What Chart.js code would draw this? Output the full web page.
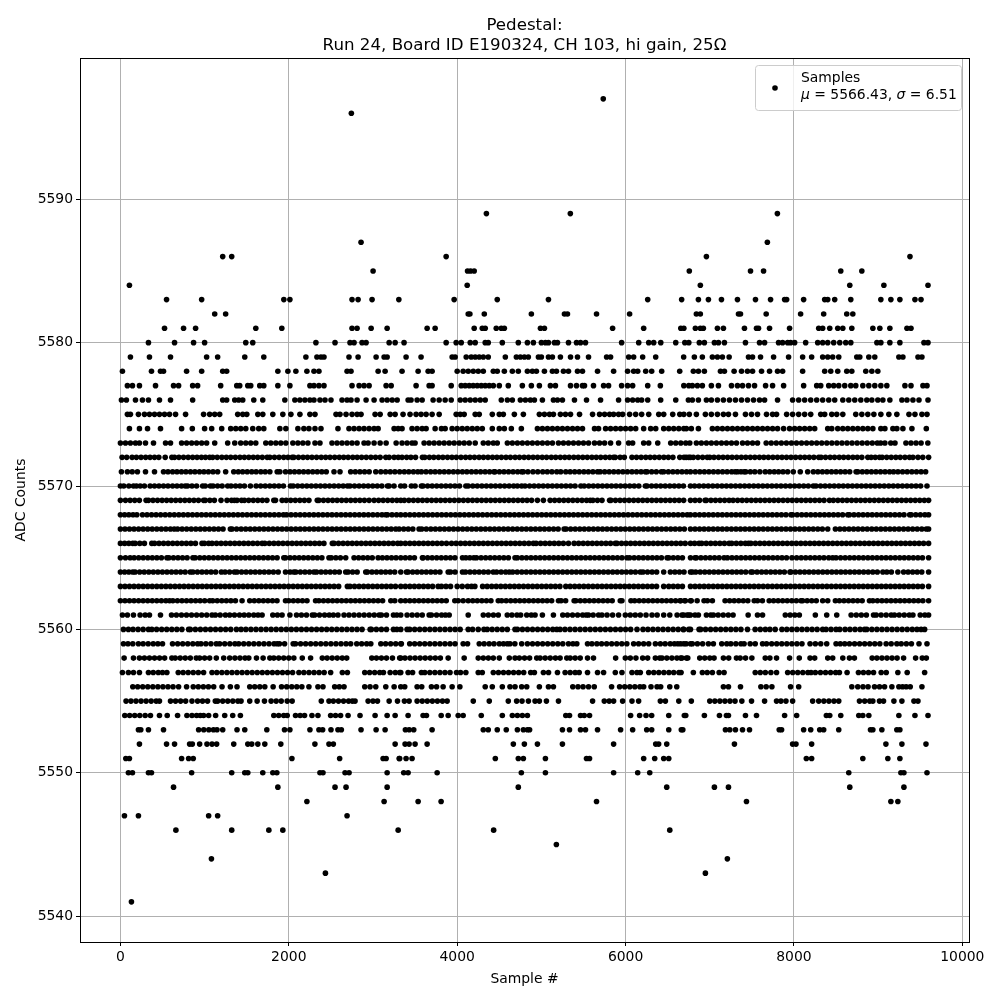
<!DOCTYPE html>
<html>
<head>
<meta charset="utf-8">
<title>Pedestal</title>
<script src="https://cdn.jsdelivr.net/npm/chart.js@4"></script>
<style>
  body { margin: 0; background: #fff; }
  canvas { display: block; }
</style>
</head>
<body>
<canvas id="pedestalChart" width="1000" height="1000"></canvas>
<script>
// Sample numbers, one array per ADC level
const s5597 = [5735];
const s5596 = [2743];
const s5589 = [4347,5344,7803];
const s5587 = [2858,7684];
const s5586 = [1215,1322,3869,6960,9378];
const s5585 = [3001,4123,4159,4202,6757,7484,7639,8556,8806];
const s5584 = [107,4119,6888,8663,9068,9592];
const s5583 = [548,965,1941,2013,2751,2823,2989,3307,3964,4476,5084,6263,6666,6865,6984,7139,7329,7543,7722,7889,7913,8115,8365,8401,8484,8675,9032,9151,9258,9437,9509];
const s5582 = [1120,1250,4131,4151,4322,4881,5274,5310,5655,6048,6841,6888,7341,7365,7670,8079,8353,8627,8699];
const s5581 = [524,750,893,1608,1917,2751,2811,2978,3168,3643,3738,4202,4298,4333,4464,4524,4560,4989,5036,5846,6215,6656,6692,6829,6888,6924,7091,7162,7412,7555,7579,7710,7948,8294,8341,8425,8520,8580,8687,8937,9020,9139,9342,9390];
const s5580 = [333,643,869,1000,1489,1572,2322,2549,2727,2775,2870,2918,3192,3263,3369,3869,3988,4048,4155,4214,4333,4369,4536,4726,4834,4905,5000,5048,5084,5155,5191,5322,5417,5465,5524,5953,6156,6275,6334,6418,6596,6704,6751,6876,6936,7055,7103,7174,7424,7591,7651,7817,7865,7925,7960,8008,8139,8282,8341,8401,8472,8544,8615,8675,8985,9032,9139,9258,9544,9592];
const s5579 = [119,345,595,1024,1155,1477,1703,2203,2334,2382,2418,2715,2823,3037,3132,3168,3393,3571,3940,3976,4107,4167,4214,4262,4310,4369,4572,4703,4750,4798,4845,4965,5000,5084,5131,5226,5346,5429,5560,5775,5822,6037,6096,6203,6358,6690,6817,6912,7031,7091,7150,7230,7460,7508,7603,7758,7936,8103,8210,8341,8401,8460,8532,8746,8782,8889,8960,9246,9294,9473,9520];
const s5578 = [24,369,476,512,786,965,1215,1262,1870,1989,2084,2215,2299,2358,2692,2739,3061,3144,3345,3536,3655,3702,4000,4071,4131,4191,4250,4310,4429,4476,4560,4655,4726,4834,4893,4941,5036,5131,5179,5262,5322,5429,5488,5667,5858,6024,6096,6144,6239,6310,6429,6643,6805,6865,6936,7127,7174,7289,7377,7448,7508,7615,7710,7805,7865,8103,8365,8437,8520,8627,8687,8853,8925,8996];
const s5577 = [83,143,226,417,631,691,858,917,1191,1382,1417,1513,1548,1655,1703,1870,2013,2251,2299,2358,2418,2751,2835,2894,2954,3156,3216,3512,3667,3702,3929,4048,4095,4143,4190,4238,4286,4333,4381,4429,4500,4607,4774,4881,4976,5107,5167,5346,5417,5488,5512,5619,5739,5798,5953,6024,6084,6263,6413,6692,6751,6793,6853,6912,7019,7103,7258,7329,7389,7460,7532,7663,7746,7877,8115,8270,8318,8413,8472,8532,8603,8675,8734,8818,8889,8960,9032,9103,9318,9390,9532,9580];
const s5576 = [12,71,179,262,333,464,595,858,1215,1262,1358,1405,1453,1584,1691,1953,2072,2131,2191,2251,2299,2370,2430,2501,2632,2692,2739,2811,2918,3013,3108,3168,3228,3287,3417,3452,3524,3584,3714,3786,3857,3929,4036,4095,4155,4214,4274,4333,4524,4596,4655,4750,4810,4869,4917,5012,5143,5191,5250,5393,5536,5703,5917,6024,6084,6144,6191,6263,6417,6596,6746,6793,6865,6960,7019,7091,7162,7234,7305,7377,7448,7520,7591,7651,7805,7984,8056,8127,8199,8270,8341,8413,8484,8580,8651,8722,8794,8865,8925,8996,9056,9139,9282,9342,9413,9485,9592];
const s5575 = [83,119,214,286,345,405,464,524,583,655,774,988,1060,1120,1179,1393,1453,1501,1632,1691,1810,1929,2025,2132,2251,2311,2561,2608,2680,2751,2811,2858,3025,3085,3204,3263,3357,3440,3512,3571,3631,3702,3786,3988,4036,4083,4214,4262,4417,4500,4548,4679,4786,4976,5036,5096,5143,5226,5286,5346,5453,5608,5691,5751,5810,5858,5917,5965,6048,6120,6191,6275,6394,6453,6560,6644,6692,6757,6841,6948,7019,7091,7162,7222,7305,7424,7496,7567,7674,7746,7793,7913,7984,8056,8127,8199,8318,8365,8449,8508,8580,8734,8806,8877,8949,9032,9127,9222,9366,9437,9520,9580];
const s5574 = [107,226,322,476,727,854,1000,1084,1203,1310,1370,1429,1489,1572,1643,1703,1894,1965,2108,2179,2239,2311,2382,2584,2715,2775,2835,2894,2954,3013,3061,3251,3299,3345,3464,3524,3584,3631,3738,3813,3857,3940,4000,4060,4119,4179,4238,4298,4417,4500,4560,4643,4762,4953,5012,5072,5131,5191,5250,5310,5370,5429,5488,5631,5679,5763,5822,5882,5941,6000,6060,6120,6215,6298,6358,6453,6513,6572,6632,6692,6722,6781,6865,7031,7091,7150,7210,7269,7329,7389,7448,7508,7567,7627,7686,7746,7805,7877,7948,8008,8067,8127,8187,8246,8401,8449,8520,8580,8639,8699,8758,8818,8877,8937,9032,9080,9175,9222,9294,9401,9572];
const s5573 = [0,60,119,179,226,298,393,536,595,727,786,846,905,965,1024,1120,1274,1358,1429,1489,1548,1608,1727,1786,1846,1905,1965,2048,2108,2167,2227,2311,2370,2513,2573,2632,2692,2751,2811,2894,2942,3013,3085,3156,3275,3345,3405,3464,3500,3607,3667,3726,3786,3845,3905,3964,4024,4083,4143,4214,4310,4369,4429,4476,4596,4655,4715,4774,4834,4893,4953,5012,5072,5131,5203,5262,5322,5381,5441,5500,5560,5631,5691,5751,5822,5917,6036,6084,6215,6275,6382,6536,6596,6656,6715,6763,6841,6900,6960,7019,7079,7139,7198,7258,7317,7389,7448,7508,7567,7670,7730,7790,7850,7910,7970,8030,8090,8150,8210,8270,8330,8390,8450,8510,8570,8630,8690,8750,8810,8870,8930,8990,9030,9080,9150,9200,9330,9390,9450,9510,9590];
const s5572 = [20,75,139,190,245,300,352,405,456,532,611,643,695,750,805,858,910,962,1010,1060,1096,1150,1205,1258,1310,1365,1420,1472,1525,1578,1630,1685,1743,1775,1830,1885,1940,1990,2040,2060,2115,2170,2222,2275,2330,2385,2438,2490,2545,2600,2652,2705,2760,2812,2865,2920,2975,3030,3085,3152,3192,3251,3300,3345,3400,3450,3505,3587,3615,3670,3722,3778,3830,3885,3938,3990,4045,4100,4152,4205,4260,4312,4366,4420,4472,4525,4580,4632,4688,4740,4795,4848,4902,4955,5010,5062,5118,5170,5225,5278,5330,5385,5438,5492,5545,5600,5652,5705,5760,5812,5858,5878,5935,5985,6076,6130,6185,6240,6292,6345,6400,6455,6508,6562,6644,6720,6771,6694,6750,6805,6860,6915,6970,7000,7050,7105,7158,7212,7265,7320,7375,7428,7482,7535,7590,7642,7696,7750,7804,7858,7912,7965,8020,8075,8128,8182,8236,8294,8322,8375,8430,8482,8538,8590,8645,8700,8752,8806,8877,8917,8965,9016,9048,9102,9155,9210,9262,9318,9372,9413,9473,9530,9599];
const s5571 = [12,83,140,202,298,405,512,565,620,672,725,778,832,885,940,992,1045,1100,1155,1250,1346,1400,1452,1506,1560,1612,1668,1720,1775,1862,1894,1961,2015,2068,2122,2176,2230,2284,2338,2392,2445,2537,2608,2735,2790,2845,2900,2955,3033,3093,3150,3205,3260,3317,3372,3425,3480,3532,3575,3630,3685,3738,3792,3846,3900,3955,4008,4062,4115,4170,4224,4278,4332,4385,4437,4449,4502,4556,4610,4664,4718,4766,4786,4840,4900,4957,5016,5070,5125,5183,5230,5290,5342,5396,5450,5505,5558,5612,5667,5699,5752,5806,5860,5914,5968,6022,6076,6130,6184,6235,6255,6310,6365,6425,6453,6508,6562,6616,6670,6724,6771,6828,6882,6936,6990,7044,7098,7152,7206,7260,7301,7329,7370,7408,7428,7482,7535,7595,7659,7712,7766,7817,7870,7925,7992,8075,8163,8230,8284,8338,8392,8446,8500,8554,8608,8662,8738,8758,8812,8866,8920,8974,9028,9082,9136,9183,9235,9290,9345,9400,9455,9510,9564];
const s5570 = [0,40,100,155,190,235,285,353,405,458,512,565,620,672,725,770,798,850,905,977,1008,1068,1100,1154,1208,1274,1314,1368,1420,1473,1544,1612,1666,1720,1774,1828,1882,1936,2020,2052,2106,2160,2214,2268,2322,2376,2430,2484,2538,2592,2646,2696,2727,2781,2835,2889,2943,2997,3051,3105,3172,3192,3250,3330,3375,3456,3500,3575,3595,3649,3703,3757,3811,3865,3919,3973,4027,4103,4131,4185,4239,4293,4347,4401,4455,4509,4563,4617,4671,4715,4766,4806,4860,4914,4968,5022,5076,5130,5184,5238,5292,5346,5400,5469,5509,5563,5617,5671,5725,5779,5833,5887,5941,5995,6049,6103,6157,6235,6255,6309,6363,6417,6471,6525,6579,6633,6687,6771,6820,6874,6928,6982,7036,7090,7144,7198,7252,7306,7360,7414,7468,7522,7576,7630,7684,7738,7792,7846,7900,7954,8008,8062,8116,8170,8230,8262,8316,8370,8424,8478,8532,8586,8640,8694,8748,8802,8856,8910,8964,9018,9072,9126,9180,9234,9288,9342,9396,9450,9504,9580];
const s5569 = [0,60,115,170,225,305,333,387,441,495,549,603,657,711,765,819,873,927,988,1008,1062,1116,1195,1266,1320,1354,1385,1439,1473,1524,1578,1632,1686,1740,1822,1842,1921,1969,2023,2077,2131,2185,2239,2338,2358,2412,2466,2520,2574,2628,2682,2736,2790,2844,2898,2954,3013,3067,3121,3175,3229,3283,3330,3372,3426,3480,3534,3588,3642,3696,3750,3804,3858,3912,3966,4020,4074,4128,4182,4236,4290,4344,4398,4452,4506,4560,4614,4668,4722,4776,4830,4884,4953,5024,5104,5158,5212,5266,5320,5374,5428,5482,5536,5580,5612,5666,5720,5810,5826,5880,5934,5988,6042,6096,6150,6204,6258,6312,6366,6420,6474,6528,6582,6636,6690,6771,6825,6879,6944,6960,7014,7068,7122,7176,7230,7277,7331,7385,7439,7493,7547,7601,7655,7709,7763,7817,7871,7925,7979,8033,8087,8141,8195,8249,8303,8357,8421,8468,8522,8576,8630,8684,8738,8792,8846,8900,8954,9008,9062,9116,9170,9224,9278,9332,9386,9440,9494,9548,9599];
const s5568 = [0,50,100,150,195,262,316,370,424,478,532,586,640,694,748,802,856,910,964,1018,1072,1126,1180,1234,1288,1342,1396,1450,1504,1558,1612,1666,1720,1774,1828,1882,1936,1973,2027,2081,2135,2189,2243,2297,2351,2405,2459,2513,2567,2621,2675,2729,2783,2837,2891,2945,2999,3053,3107,3152,3172,3226,3280,3330,3384,3438,3492,3546,3600,3654,3708,3762,3816,3870,3924,3978,4032,4086,4140,4194,4248,4302,4356,4410,4464,4518,4572,4626,4680,4734,4788,4842,4896,4950,5004,5058,5112,5166,5220,5274,5328,5382,5436,5490,5544,5598,5652,5706,5760,5814,5868,5922,5976,6030,6084,6138,6192,6246,6300,6354,6408,6462,6516,6570,6624,6678,6732,6771,6825,6879,6933,6987,7041,7095,7149,7203,7257,7311,7365,7419,7473,7527,7581,7635,7689,7743,7797,7851,7905,7964,7984,8038,8092,8146,8200,8254,8308,8362,8416,8470,8524,8578,8639,8659,8713,8767,8821,8875,8929,8983,9037,9091,9145,9199,9253,9307,9374,9393,9447,9501,9555,9599];
const s5567 = [0,54,108,162,216,270,324,378,432,486,540,594,639,679,733,787,841,895,949,1003,1057,1111,1165,1219,1306,1326,1380,1434,1488,1542,1596,1650,1704,1758,1812,1866,1920,1974,2028,2082,2136,2190,2244,2298,2352,2406,2460,2514,2568,2622,2676,2730,2784,2838,2892,2946,3000,3054,3108,3162,3216,3270,3311,3365,3419,3473,3547,3579,3633,3687,3741,3795,3849,3903,3957,4011,4065,4119,4173,4227,4281,4335,4389,4443,4497,4551,4605,4659,4713,4767,4821,4875,4929,4983,5037,5091,5145,5199,5270,5294,5348,5402,5456,5510,5564,5618,5672,5726,5780,5834,5888,5942,5996,6050,6104,6158,6212,6266,6320,6374,6428,6482,6536,6590,6644,6698,6771,6825,6879,6933,6987,7041,7095,7149,7203,7257,7311,7365,7419,7473,7527,7581,7635,7689,7743,7797,7851,7905,7959,8013,8067,8121,8175,8229,8283,8337,8401,8492,8546,8600,8654,8708,8762,8816,8870,8924,8978,9032,9086,9140,9194,9248,9302,9356,9410,9464,9518,9572,9599];
const s5566 = [0,50,100,147,175,230,285,373,405,459,513,567,621,675,729,783,837,891,969,997,1048,1088,1142,1196,1250,1304,1358,1412,1466,1520,1574,1628,1683,1715,1769,1823,1877,1931,1985,2039,2093,2147,2201,2255,2309,2363,2417,2517,2537,2591,2645,2699,2753,2807,2861,2915,2969,3023,3077,3131,3185,3239,3293,3330,3384,3438,3492,3546,3600,3654,3708,3762,3816,3873,3933,3987,4041,4095,4149,4203,4257,4311,4365,4419,4473,4527,4581,4635,4689,4743,4797,4851,4905,4937,4991,5045,5099,5153,5207,5261,5322,5389,5443,5497,5551,5605,5659,5713,5767,5821,5878,5898,5952,6006,6060,6114,6168,6222,6276,6330,6384,6438,6492,6546,6600,6654,6708,6771,6820,6873,6904,6958,7012,7066,7120,7174,7230,7261,7315,7369,7423,7460,7488,7542,7596,7650,7704,7758,7812,7866,7920,7974,8028,8082,8136,8190,8244,8298,8352,8406,8460,8514,8568,8622,8676,8730,8784,8838,8892,8946,9000,9054,9108,9162,9216,9270,9324,9378,9432,9486,9540,9599];
const s5565 = [0,60,115,163,217,271,325,379,433,487,552,576,630,684,738,792,861,889,943,997,1051,1105,1159,1213,1267,1321,1375,1429,1483,1537,1591,1645,1699,1753,1807,1861,1941,1961,2015,2069,2123,2177,2231,2285,2339,2393,2477,2505,2559,2613,2676,2775,2829,2883,2937,2991,3061,3112,3166,3220,3274,3330,3384,3438,3492,3587,3595,3649,3703,3757,3811,3865,3919,3973,4063,4103,4150,4198,4230,4284,4338,4392,4446,4500,4554,4608,4687,4715,4769,4823,4877,4931,4985,5039,5093,5147,5201,5255,5309,5363,5417,5471,5525,5579,5633,5687,5741,5795,5849,5903,5957,6016,6048,6102,6156,6210,6264,6318,6372,6426,6493,6513,6567,6621,6675,6771,6825,6841,6895,6949,7003,7057,7111,7170,7210,7264,7318,7372,7426,7480,7534,7588,7642,7696,7750,7804,7858,7912,7976,8032,8086,8140,8194,8248,8302,8356,8413,8460,8500,8554,8608,8662,8716,8770,8824,8878,8932,8986,9040,9094,9148,9202,9256,9310,9364,9418,9472,9526,9599];
const s5564 = [0,50,100,147,175,229,283,337,391,445,499,553,607,661,715,769,830,861,915,969,1023,1077,1131,1199,1243,1297,1354,1385,1439,1493,1547,1601,1655,1709,1763,1817,1874,1961,2015,2060,2084,2138,2192,2246,2299,2330,2384,2438,2492,2546,2600,2676,2704,2758,2812,2914,2934,2988,3042,3096,3150,3204,3258,3330,3397,3417,3471,3525,3579,3633,3687,3741,3795,3893,3921,3975,4063,4099,4153,4207,4261,4315,4369,4429,4468,4522,4576,4619,4659,4713,4767,4821,4875,4929,4983,5037,5091,5145,5199,5253,5307,5361,5415,5469,5523,5577,5631,5685,5739,5793,5847,5901,5955,6009,6063,6117,6175,6207,6261,6315,6369,6453,6532,6586,6640,6694,6771,6793,6833,6887,6941,6995,7049,7103,7157,7211,7265,7319,7373,7427,7488,7508,7562,7616,7670,7724,7778,7832,7886,7952,7964,8018,8072,8126,8180,8234,8288,8342,8396,8450,8504,8558,8612,8666,8720,8774,8828,8882,8936,8990,9056,9103,9157,9234,9302,9356,9410,9464,9518,9599];
const s5563 = [0,54,108,162,216,270,324,378,432,486,540,594,648,702,756,810,864,918,972,1026,1080,1134,1188,1242,1296,1350,1404,1458,1512,1566,1620,1674,1728,1782,1836,1890,1944,1998,2052,2106,2160,2214,2268,2322,2376,2430,2484,2538,2592,2696,2727,2781,2835,2889,2943,2997,3051,3105,3159,3213,3267,3330,3384,3438,3492,3546,3600,3654,3708,3774,3813,3867,3921,4000,4060,4123,4170,4210,4302,4356,4410,4464,4518,4572,4626,4680,4734,4788,4842,4896,4950,5004,5058,5112,5166,5220,5290,5342,5396,5450,5504,5558,5612,5666,5720,5774,5828,5882,5936,5990,6044,6098,6152,6206,6260,6314,6368,6453,6513,6567,6621,6675,6771,6825,6879,6933,6987,7041,7095,7149,7203,7257,7311,7365,7419,7473,7527,7581,7635,7689,7743,7797,7851,7905,7959,8013,8067,8121,8175,8229,8283,8337,8391,8445,8499,8553,8607,8661,8715,8769,8823,8877,8931,8985,9039,9093,9147,9201,9255,9309,9363,9417,9471,9525,9599];
const s5562 = [0,54,108,162,216,270,324,378,432,486,540,584,623,677,731,785,839,893,947,1001,1060,1096,1150,1204,1258,1312,1366,1445,1536,1590,1644,1698,1752,1806,1860,1961,2000,2054,2108,2162,2216,2318,2358,2412,2466,2520,2574,2628,2682,2736,2790,2844,2898,2952,3006,3060,3114,3212,3259,3330,3384,3438,3492,3546,3600,3654,3708,3762,3816,3870,3972,4012,4071,4131,4185,4239,4293,4347,4401,4488,4528,4582,4636,4690,4744,4798,4852,4906,4960,5014,5068,5122,5203,5234,5288,5389,5409,5463,5517,5571,5625,5679,5733,5787,5841,5937,5957,6064,6108,6162,6216,6270,6324,6378,6432,6486,6540,6594,6648,6702,6771,6654,6710,6780,6850,6932,6972,7031,7182,7236,7290,7344,7398,7452,7528,7567,7625,7706,7758,7812,7866,7920,7974,8028,8083,8103,8157,8211,8265,8341,8401,8492,8540,8594,8648,8702,8756,8810,8897,8937,8991,9045,9099,9153,9207,9261,9315,9369,9423,9477,9531,9599];
const s5561 = [24,83,155,234,294,345,476,607,665,725,785,845,905,965,1025,1088,1128,1185,1247,1298,1355,1415,1470,1525,1584,1635,1683,1810,1865,1920,2013,2092,2150,2210,2279,2307,2365,2425,2480,2529,2584,2656,2715,2775,2835,2895,2955,3015,3073,3100,3160,3243,3283,3330,3405,3465,3525,3585,3667,3694,3755,3815,3860,3905,4131,4310,4370,4430,4488,4595,4650,4710,4754,4826,4880,4925,5012,5143,5254,5310,5370,5430,5490,5532,5560,5615,5679,5719,5780,5846,5917,5997,6056,6115,6175,6243,6314,6375,6453,6525,6612,6670,6730,6771,6690,6750,6825,6865,6960,7012,7043,7100,7160,7220,7277,7456,7567,7627,7897,7955,8010,8064,8254,8389,8508,8679,8740,8800,8860,8945,8977,9035,9095,9155,9194,9250,9310,9370,9413,9500,9555,9599];
const s5560 = [36,95,150,210,270,333,373,430,490,550,610,670,730,810,830,890,950,1010,1070,1130,1190,1250,1310,1378,1433,1490,1550,1610,1670,1730,1790,1850,1910,1970,2030,2090,2150,2210,2270,2330,2390,2450,2510,2570,2630,2690,2750,2810,2870,2966,2981,3040,3100,3160,3243,3283,3330,3405,3436,3495,3555,3615,3675,3735,3795,3855,3915,3975,4035,4131,4183,4250,4318,4357,4415,4475,4535,4595,4687,4715,4775,4835,4895,4955,5015,5075,5135,5183,5222,5280,5340,5400,5460,5520,5580,5640,5700,5760,5820,5880,5940,6000,6060,6136,6207,6265,6325,6385,6445,6505,6565,6625,6685,6771,6690,6750,6873,6892,6950,7010,7070,7130,7190,7250,7310,7370,7448,7539,7600,7660,7714,7777,7857,7915,7975,8035,8095,8155,8215,8275,8341,8381,8440,8500,8544,8607,8665,8725,8785,8838,8865,8925,8985,9045,9105,9165,9225,9285,9345,9405,9461,9510,9552];
const s5559 = [36,90,147,214,270,330,390,445,500,619,680,740,800,860,917,957,1015,1075,1139,1179,1239,1300,1360,1405,1465,1525,1585,1645,1705,1765,1825,1862,1889,1950,2052,2080,2140,2200,2260,2320,2380,2440,2500,2560,2620,2680,2735,2807,2865,2925,2974,3093,3150,3210,3270,3330,3337,3436,3495,3555,3615,3675,3735,3795,3855,3915,3975,4071,4123,4262,4320,4380,4437,4500,4550,4595,4627,4685,4766,4834,4895,4955,5015,5075,5135,5195,5254,5322,5375,5421,5548,5600,5659,5715,5775,5835,5895,5955,6015,6096,6155,6215,6275,6354,6413,6470,6530,6580,6620,6692,6771,6654,6720,6793,6853,6915,6984,7043,7142,7202,7250,7310,7370,7408,7480,7540,7627,7674,7735,7795,7855,7915,7975,8035,8095,8191,8254,8318,8389,8500,8550,8603,8659,8720,8780,8840,8900,8960,9020,9095,9155,9222,9274,9335,9395,9485,9580];
const s5558 = [44,155,226,285,345,405,465,525,611,651,710,770,830,901,941,1000,1060,1139,1227,1298,1360,1420,1480,1525,1616,1695,1775,1822,1880,1940,2000,2060,2160,2259,2398,2455,2515,2575,2635,2688,2986,3041,3100,3160,3231,3330,3317,3380,3440,3500,3560,3620,3680,3740,3800,3893,4083,4250,4310,4370,4429,4500,4619,4687,4738,4800,4860,4945,4985,5045,5105,5167,5222,5302,5342,5401,5461,5548,5619,5882,5997,6056,6123,6203,6262,6354,6405,6433,6490,6550,6610,6670,6739,6654,6722,6881,6940,7000,7051,7162,7225,7317,7361,7425,7500,7659,7714,7793,7948,8063,8191,8246,8401,8460,8580,8659,8718,8929,8985,9045,9105,9165,9225,9302,9445,9524,9572];
const s5557 = [24,95,155,226,333,390,450,500,552,687,745,805,865,925,988,1088,1145,1205,1265,1325,1385,1445,1505,1565,1625,1685,1745,1805,1865,1925,1985,2045,2120,2179,2240,2300,2360,2420,2497,2636,2696,2902,2960,3020,3080,3124,3204,3265,3330,3317,3417,3470,3575,3615,3675,3735,3795,3855,3915,3992,4040,4103,4250,4298,4429,4490,4550,4610,4670,4730,4790,4873,4917,5024,5085,5191,5282,5342,5401,5449,5548,5667,5739,5878,5957,6076,6135,6175,6275,6335,6395,6455,6515,6572,6659,6634,6805,6912,6970,7031,7111,7170,7540,7600,7660,7726,7793,7925,7985,8045,8105,8165,8203,8254,8315,8375,8435,8495,8540,8631,8766,8825,8885,8945,9036,9096,9234,9345,9552];
const s5556 = [147,205,265,325,385,445,505,565,625,691,786,865,925,985,1045,1108,1207,1306,1385,1536,1595,1655,1715,1814,1914,1975,2035,2095,2155,2239,2346,2406,2545,2600,2656,2902,2965,3033,3152,3251,3330,3377,3524,3579,3694,3755,3833,3940,4032,4333,4417,4536,4627,4687,4766,4826,4976,5084,5143,5373,5435,5495,5560,5628,5834,5929,5990,6050,6110,6170,6215,6302,6374,6417,6525,6608,7162,7222,7365,7607,7670,7738,7960,8056,8687,8758,8820,8880,8957,9016,9076,9163,9246,9290,9333,9381,9520];
const s5555 = [67,125,185,245,305,365,425,464,595,655,715,775,850,917,975,1035,1127,1155,1215,1275,1335,1395,1433,1536,1624,1711,1790,1850,1910,1981,2040,2386,2477,2529,2590,2650,2710,2755,2787,2942,3000,3053,3192,3291,3373,3429,3524,3585,3645,3705,3765,3825,3881,4191,4381,4607,4706,4770,4846,4925,4976,5060,5203,5608,5747,5805,5858,5965,6076,6155,6413,6473,6632,6781,7000,7060,7120,7180,7240,7300,7381,7496,7651,7793,7845,7905,7984,8222,8294,8355,8415,8475,8532,8778,8840,8900,8937,9016,9064,9187,9282,9425,9473];
const s5554 = [52,110,170,230,294,357,464,556,679,790,850,905,949,988,1048,1131,1239,1334,1425,1822,1880,1940,1981,2080,2135,2187,2275,2346,2497,2555,2615,2704,2846,3025,3168,3263,3417,3595,3635,3810,3893,4012,4071,4286,4536,4655,4715,4774,4834,5290,5334,5465,5509,5572,6060,6167,6243,6310,6513,6715,6698,6936,7115,7198,7222,7424,7555,7889,8032,8385,8425,8556,8770,8818,8889,9246,9437,9592];
const s5553 = [214,242,333,512,929,990,1050,1105,1147,1215,1385,1477,1739,1949,2013,2251,2358,2402,2501,2584,2624,2858,3037,3144,3385,3430,3484,3702,4310,4369,4476,4583,4715,4786,4834,4860,5250,5334,5465,5524,5667,5941,6084,6251,6310,6513,6680,6662,7186,7238,7305,7389,7472,7825,7853,8115,8199,8306,8353,8532,8909,8937,9044,9222,9258];
const s5552 = [226,548,643,822,854,941,1028,1088,1143,1346,1513,1560,1632,1715,1905,2310,2477,2529,3263,3381,3429,3500,3643,4667,4798,4953,5250,5858,6358,6393,6489,7293,7984,8024,8210,9092,9282,9568];
const s5551 = [64,107,727,810,865,2037,2604,3120,3156,3311,3317,3393,3464,4453,4726,4786,5048,5536,5572,6215,6346,6453,6513,8147,8210,8818,9115,9258];
const s5550 = [95,143,333,369,846,1322,1477,1513,1691,1810,1858,2370,2406,2668,2716,3168,3365,3417,3762,4762,5048,5858,6144,6287,8651,9270,9306,9580];
const s5549 = [631,1870,2549,2680,3168,4726,6489,7055,7222,8663,9306];
const s5548 = [2215,3132,3536,3809,5655,7436,9151,9234];
const s5547 = [48,214,1048,1155,2692];
const s5546 = [659,1322,1763,1929,3299,4433,6525];
const s5545 = [5178];
const s5544 = [1081,7209];
const s5543 = [2435,6948];
const s5541 = [131];

const levels = [5597,5596,5589,5587,5586,5585,5584,5583,5582,5581,5580,5579,5578,5577,5576,5575,5574,5573,5572,5571,5570,5569,5568,5567,5566,5565,5564,5563,5562,5561,5560,5559,5558,5557,5556,5555,5554,5553,5552,5551,5550,5549,5548,5547,5546,5545,5544,5543,5541];
const levelSamples = [s5597,s5596,s5589,s5587,s5586,s5585,s5584,s5583,s5582,s5581,s5580,s5579,s5578,s5577,s5576,s5575,s5574,s5573,s5572,s5571,s5570,s5569,s5568,s5567,s5566,s5565,s5564,s5563,s5562,s5561,s5560,s5559,s5558,s5557,s5556,s5555,s5554,s5553,s5552,s5551,s5550,s5549,s5548,s5547,s5546,s5545,s5544,s5543,s5541];

const xTicks = [0, 2000, 4000, 6000, 8000, 10000];
const yTicks = [5540, 5550, 5560, 5570, 5580, 5590];

const points = [];
levels.forEach((level, i) => {
  levelSamples[i].forEach(sample => points.push({ x: sample, y: level }));
});

const FONT = '"DejaVu Sans", sans-serif';

// Legend box, drawn by hand because of the italic mu and sigma
const sampleLegend = {
  id: 'sampleLegend',
  afterDraw(chart) {
    const c = chart.ctx;
    c.save();
    c.beginPath();
    c.roundRect(755.5, 65.5, 206, 45, 3);
    c.fillStyle = 'rgba(255,255,255,0.8)';
    c.fill();
    c.strokeStyle = '#cccccc';
    c.lineWidth = 1;
    c.stroke();

    c.beginPath();
    c.arc(775, 88, 2.8, 0, Math.PI * 2);
    c.fillStyle = '#000';
    c.fill();

    c.textBaseline = 'alphabetic';
    c.textAlign = 'left';
    c.font = '13.9px ' + FONT;
    c.fillText('Samples', 801, 82);
    let x = 801;
    const parts = [['μ', true], [' = 5566.43, ', false], ['σ', true], [' = 6.51', false]];
    parts.forEach(([text, italic]) => {
      c.font = (italic ? 'italic ' : '') + '13.9px ' + FONT;
      c.fillText(text, x, 99);
      x += c.measureText(text).width;
    });
    c.restore();
  }
};

new Chart(document.getElementById('pedestalChart').getContext('2d'), {
  type: 'scatter',
  data: {
    datasets: [{
      label: 'Samples',
      data: points,
      backgroundColor: '#000',
      borderColor: '#000',
      borderWidth: 0,
      pointRadius: 2.8
    }]
  },
  options: {
    responsive: false,
    animation: false,
    layout: { padding: { right: 31, bottom: 0, left: 0, top: 0 } },
    plugins: {
      legend: { display: false },
      tooltip: { enabled: false },
      title: {
        display: true,
        fullSize: false,
        text: ['Pedestal:', 'Run 24, Board ID E190324, CH 103, hi gain, 25Ω'],
        color: '#000',
        font: { family: FONT, size: 16.67, weight: 'normal', lineHeight: 1.2 },
        padding: { top: 16, bottom: 2 }
      }
    },
    scales: {
      x: {
        type: 'linear',
        min: -480,
        max: 10079,
        afterBuildTicks: scale => { scale.ticks = xTicks.map(value => ({ value })); },
        afterFit: scale => { scale.height = 58; },
        title: { display: true, text: 'Sample #', color: '#000', font: { family: FONT, size: 13.9 }, padding: { top: 3, bottom: 12 } },
        ticks: { color: '#000', font: { family: FONT, size: 13.9 }, padding: 3, maxRotation: 0, callback: v => String(v) },
        grid: { color: '#b0b0b0', lineWidth: 1, tickColor: '#000', tickLength: 4 },
        border: { color: '#000', width: 1 }
      },
      y: {
        type: 'linear',
        min: 5538.2,
        max: 5599.85,
        afterBuildTicks: scale => { scale.ticks = yTicks.map(value => ({ value })); },
        afterFit: scale => { scale.width = 80; },
        title: { display: true, text: 'ADC Counts', color: '#000', font: { family: FONT, size: 13.9 }, padding: { top: 13, bottom: 0 } },
        ticks: { color: '#000', font: { family: FONT, size: 13.9 }, padding: 3, callback: v => String(v) },
        grid: { color: '#b0b0b0', lineWidth: 1, tickColor: '#000', tickLength: 4 },
        border: { color: '#000', width: 1 }
      }
    }
  },
  plugins: [{
    id: 'axesFrame',
    afterDatasetsDraw(chart) {
      const a = chart.chartArea;
      const c = chart.ctx;
      c.save();
      c.strokeStyle = '#000';
      c.lineWidth = 1;
      c.strokeRect(a.left + 0.5, a.top + 0.5, a.width, a.height);
      c.restore();
    }
  }, sampleLegend]
});
</script>
</body>
</html>
